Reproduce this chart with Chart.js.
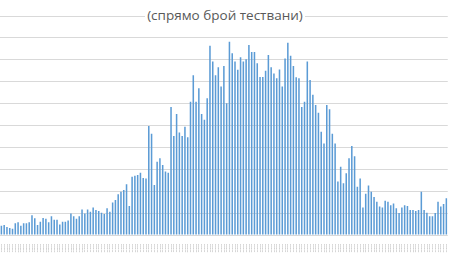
<!DOCTYPE html>
<html>
<head>
<meta charset="utf-8">
<script src="https://cdn.jsdelivr.net/npm/chart.js@4"></script>
<style>
  body { margin: 0; background: #fff; }
  #wrap { position: relative; width: 450px; height: 253px; overflow: hidden; }
  #sub {
    position: absolute; left: 0; width: 450px; top: 6px; text-align: center;
    font-family: "Open Sans", sans-serif; font-size: 13.5px; color: #595959;
  }
  #sub span { background: #fff; padding: 0 2px; }
</style>
</head>
<body>
<div id="wrap">
  <canvas id="positiveChart" width="450" height="253"></canvas>
  <div id="sub"><span>(спрямо брой тествани)</span></div>
</div>
<script>
// процент положителни (от снимката)
const valuesA = [2.1, 2.3, 1.8, 1.6, 1.4, 2.7, 2.9, 2.1, 2.7, 2.7, 2.9, 4.5, 3.8, 2.3, 3.0, 3.9, 3.7, 2.9, 4.3,
    3.5, 3.5, 2.4, 3.0, 3.0, 3.3, 4.9, 4.3, 3.7, 4.3, 5.8, 4.9, 5.8, 5.3];
const valuesB = [6.3, 5.7, 5.5, 5.1, 4.8, 6.1, 5.3, 7.4, 8.0, 9.3, 9.9, 10.3, 11.6, 6.6, 13.3, 13.5, 13.7, 14.2,
    13.0, 12.9, 24.9, 23.1];
const valuesC = [11.4, 16.7, 17.5, 16.0, 14.5, 14.2, 29.2, 22.6, 27.6, 23.4, 22.6, 24.7, 22.3, 30.4, 36.5, 30.4, 33.5, 27.6, 26.3, 31.2,
    43.2, 39.6, 36.5, 38.3, 33.9, 38.6, 30.1, 44.1, 41.5, 39.6, 37.7, 40.6, 39.6, 40.1, 43.4, 41.8, 41.8, 39.2, 36.1, 36.1,
    37.5, 41.1, 38.3, 36.9, 35.8, 37.8, 33.9, 40.3, 43.9, 40.9, 38.6, 36.0, 35.8];
const valuesD = [29.2, 30.4, 39.6, 35.4, 32.0, 29.7, 27.9, 23.6, 20.9, 29.7, 28.7, 23.1, 20.9, 12.2, 15.6, 11.8, 14.1, 17.5, 20.3, 18.0,
    11.0, 12.9, 6.3, 9.4, 11.3, 9.9, 8.7, 7.6, 6.5, 6.3, 7.8, 7.6, 6.8, 7.2, 6.1, 5.0, 6.3, 6.8, 6.6, 5.7,
    5.7, 5.5, 5.7, 9.9, 5.7, 5.1, 4.3, 4.3, 5.0, 7.6, 6.5, 7.1, 8.4];
const values = [...valuesA, ...valuesB, ...valuesC, ...valuesD];

// дати под оста
const labels = [];
const start = new Date(2020, 3, 1);
for (let i = 0; i < values.length; i++) {
    const d = new Date(start.getTime() + i * 86400000);
    labels.push(String(d.getDate()).padStart(2, '0') + '.' + String(d.getMonth() + 1).padStart(2, '0') + '.' + d.getFullYear());
}

const ctx = document.getElementById('positiveChart').getContext('2d');
new Chart(ctx, {
    type: 'bar',
    data: {
        labels: labels,
        datasets: [{
            data: values,
            backgroundColor: '#5b9bd5',
            barPercentage: 0.55,
            categoryPercentage: 1
        }]
    },
    options: {
        responsive: false,
        animation: false,
        layout: { padding: { top: 16, left: 0, right: 0, bottom: 0 } },
        plugins: { legend: { display: false }, tooltip: { enabled: false } },
        scales: {
            x: {
                grid: { display: false },
                border: { display: false },
                ticks: {
                    autoSkip: false, maxRotation: 90, minRotation: 90,
                    font: { size: 2.2, family: 'Open Sans' }, color: '#888', padding: 1
                },
                afterFit: s => { s.height = 18; }
            },
            y: {
                min: 0, max: 50,
                grid: { color: '#d9d9d9', drawTicks: false },
                border: { display: false },
                ticks: { display: false, stepSize: 5 },
                afterFit: s => { s.width = 0; }
            }
        }
    }
});
</script>
</body>
</html>
